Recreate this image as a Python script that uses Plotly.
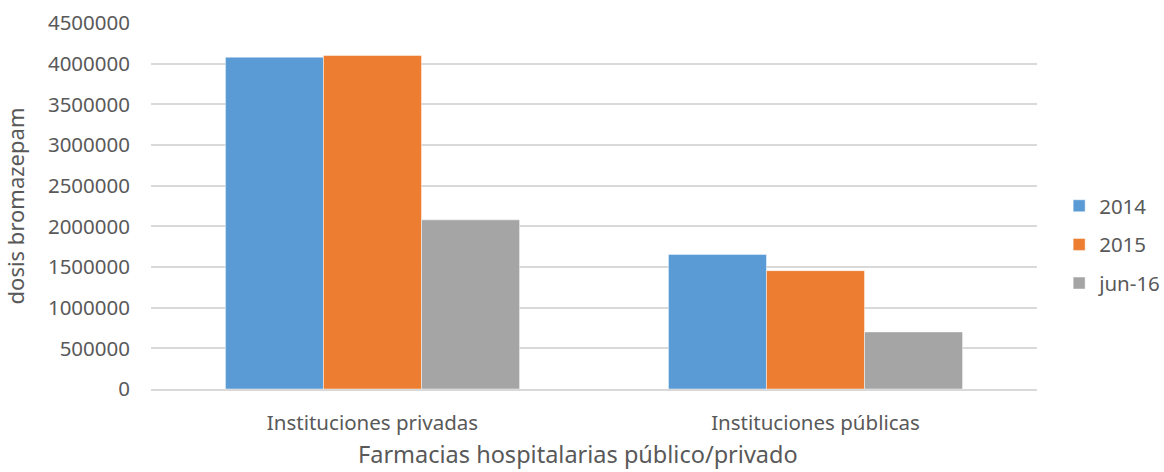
import plotly.graph_objects as go

# Doses of bromazepam dispensed by hospital pharmacies
categories = ["Instituciones privadas", "Instituciones públicas"]
series_names = ["2014", "2015", "jun-16"]
values_2014 = [4080000, 1655000]
values_2015 = [4100000, 1455000]
values_jun16 = [2080000, 702000]

x_title = "Farmacias hospitalarias público/privado"
y_title = "dosis bromazepam"

colors = ["#5B9BD5", "#ED7D31", "#A5A5A5"]
text_color = "#595959"
grid_color = "#D9D9D9"
font_family = "Noto Sans"

fig = go.Figure()
for i, (name, vals) in enumerate(zip(series_names, [values_2014, values_2015, values_jun16])):
    fig.add_trace(go.Bar(
        x=categories,
        y=vals,
        name=name,
        legendgroup=name,
        marker=dict(color=colors[i], line=dict(color="rgba(255,255,255,0.6)", width=0.8)),
    ))

fig.update_layout(
    width=1164,
    height=472,
    margin=dict(l=151, r=127, t=23, b=83, autoexpand=False),
    paper_bgcolor="white",
    plot_bgcolor="white",
    barmode="group",
    bargap=0.336,
    bargroupgap=0,
    font=dict(family=font_family, size=20, color=text_color),
    legend=dict(
        x=1.025, y=0.395, xanchor="left", yanchor="middle",
        font=dict(family=font_family, size=20.5, color=text_color),
        tracegroupgap=9,
        traceorder="grouped",
    ),
    xaxis=dict(
        showgrid=False,
        showline=True,
        linecolor=grid_color,
        linewidth=1.5,
        ticks="",
        ticklabelstandoff=15,
        tickfont=dict(family=font_family, size=20.5, color=text_color),
    ),
    yaxis=dict(
        range=[0, 4500000],
        tickmode="linear",
        tick0=0,
        dtick=500000,
        tickformat="d",
        showgrid=True,
        gridcolor=grid_color,
        gridwidth=1.5,
        zeroline=False,
        showline=False,
        ticks="",
        ticklabelstandoff=20,
        tickfont=dict(family=font_family, size=20.5, color=text_color),
        title=dict(text=y_title,
                   font=dict(family=font_family, size=22, color=text_color),
                   standoff=18),
    ),
)

# Category axis title, centred on the chart area rather than the plot area
fig.add_annotation(
    text=x_title,
    xref="paper", yref="paper",
    x=0.482, y=-0.178,
    xanchor="center", yanchor="middle",
    showarrow=False,
    borderpad=0,
    font=dict(family=font_family, size=23.5, color=text_color),
)

fig.write_html("out.html")
